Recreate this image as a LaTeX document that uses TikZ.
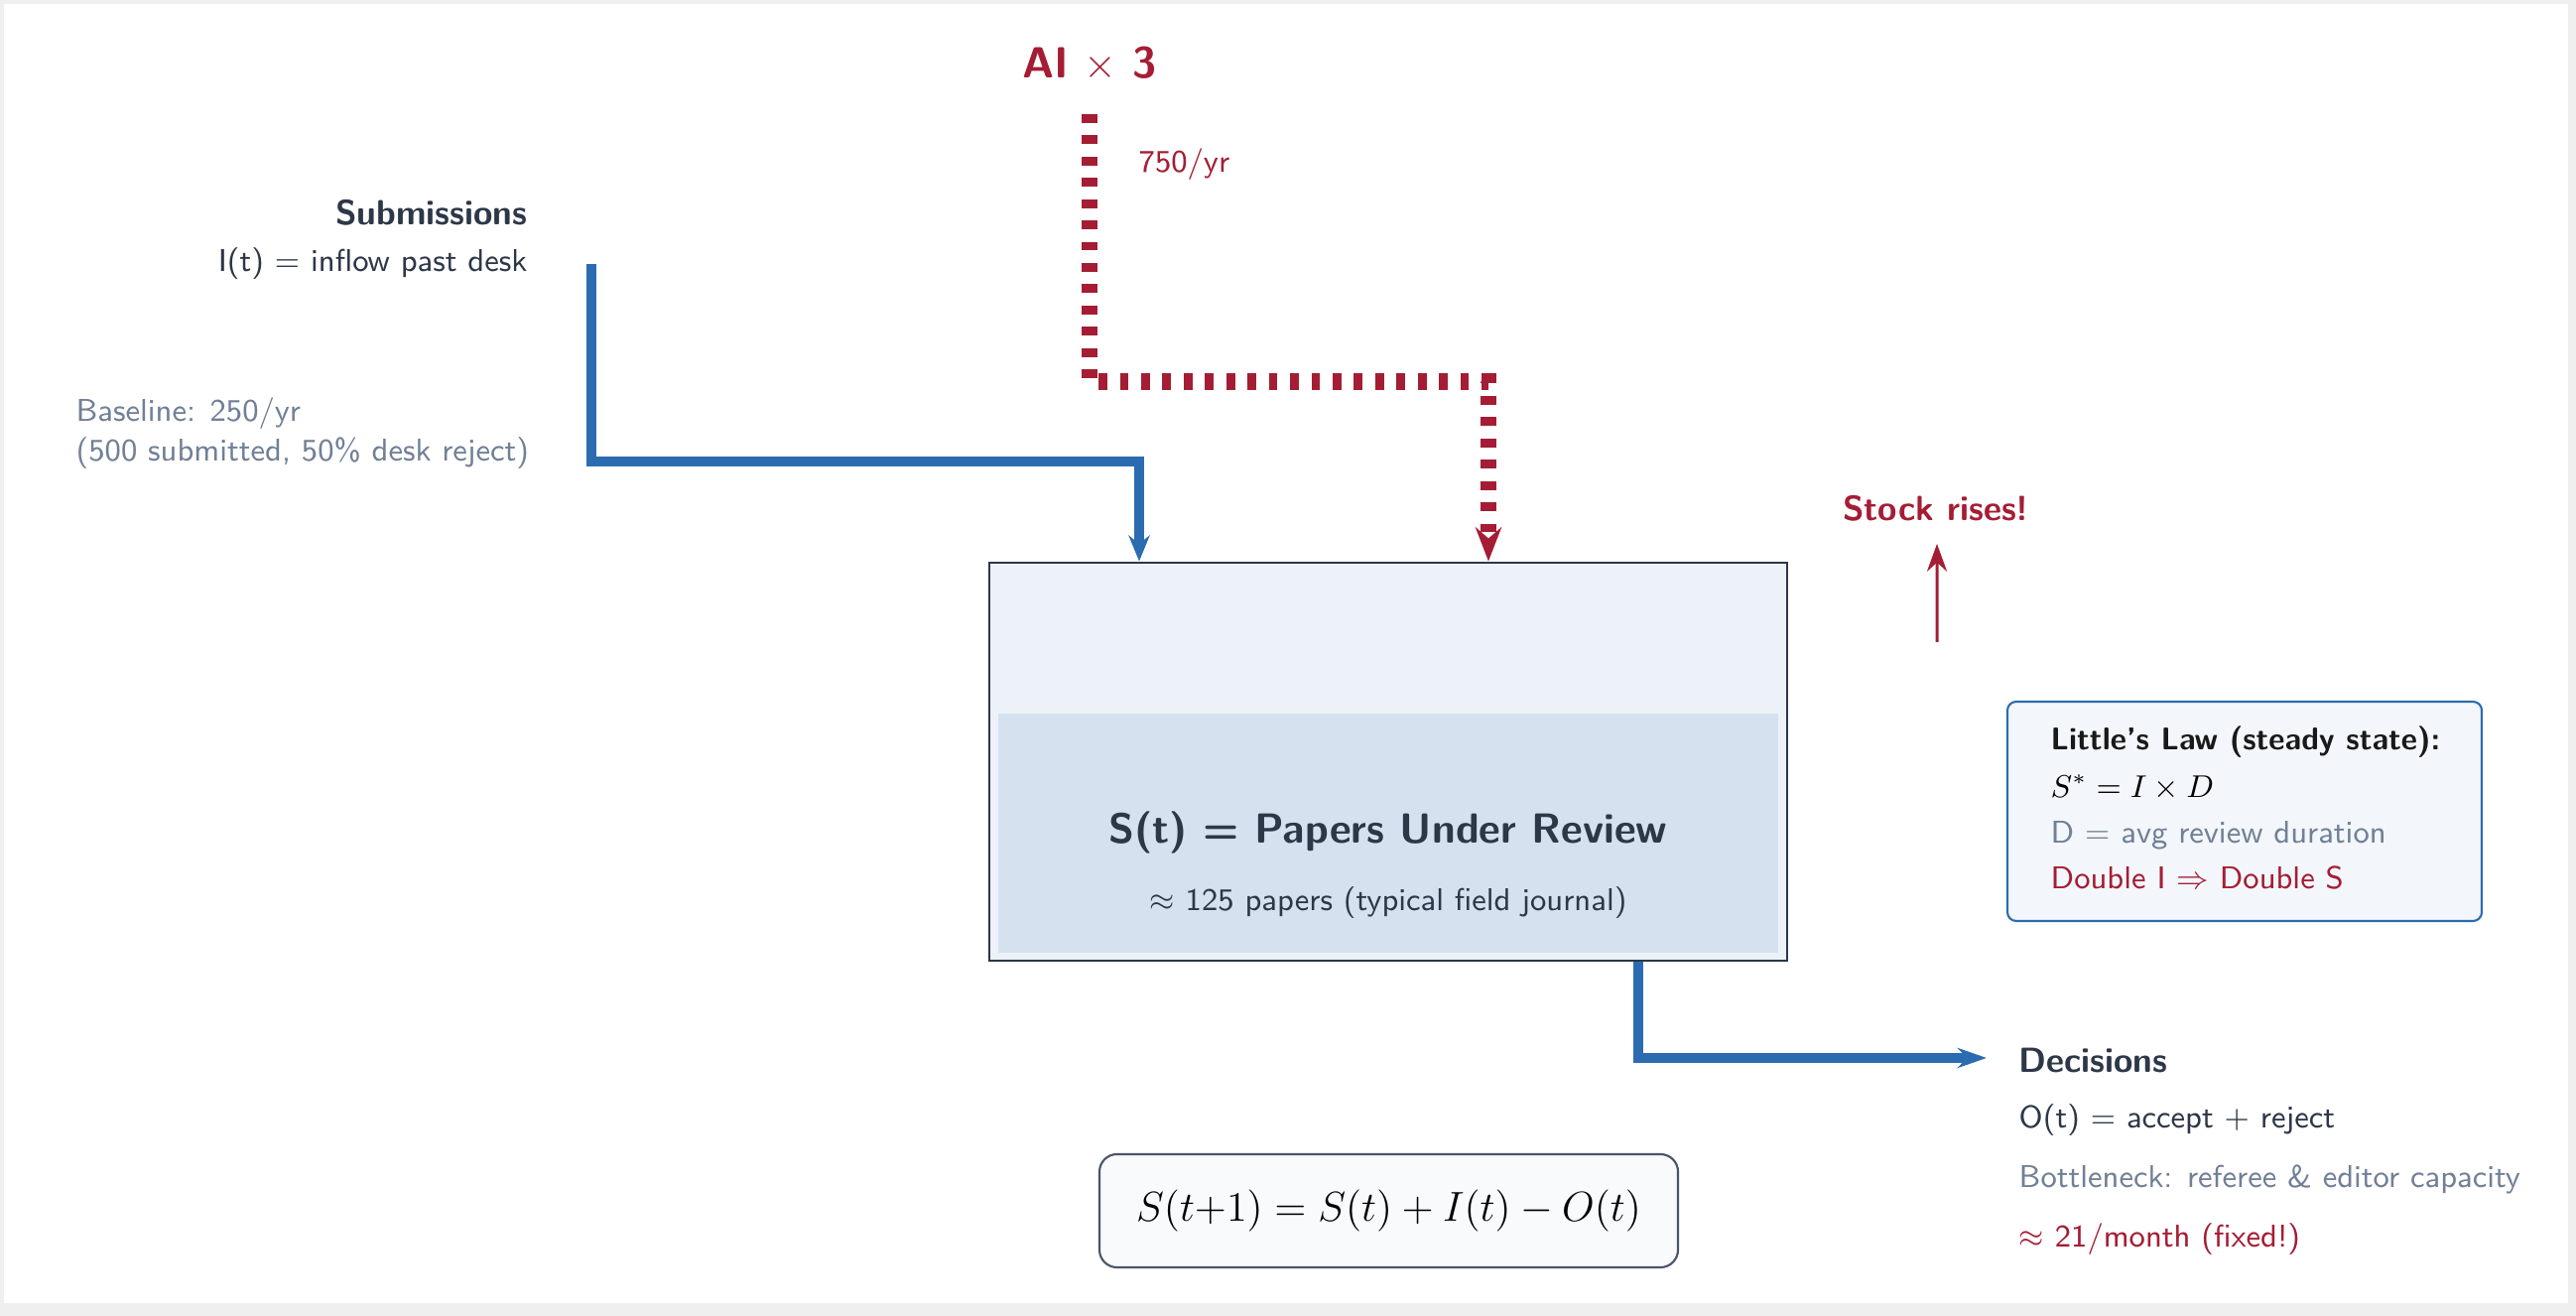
\documentclass[tikz,border=0pt]{standalone}
\usepackage{xcolor}
\definecolor{FlowBlue}{HTML}{2B6CB0}
\definecolor{AlertRed}{HTML}{A51D34}
\definecolor{SlateDark}{HTML}{2D3748}
\definecolor{SlateGrey}{HTML}{718096}
\definecolor{StockFill}{HTML}{EDF2F9}
\definecolor{WaterFill}{HTML}{D5E1EE}
\definecolor{LawFill}{HTML}{F3F7FB}
\definecolor{EqFill}{HTML}{F8FAFC}
\definecolor{EqBorder}{HTML}{4A5568}
\definecolor{PageGrey}{HTML}{EFEFEF}
\usepackage{amsmath}
\usepackage{tikz}
\usetikzlibrary{calc}
\usetikzlibrary{arrows.meta}
\renewcommand{\familydefault}{\sfdefault}

\tikzset{
	txt/.style={font=\fontsize{9.03}{11}\selectfont, inner sep=0pt, text=SlateDark},
	head/.style={font=\fontsize{10}{12}\selectfont\bfseries, inner sep=0pt, text=SlateDark},
	flow/.style={FlowBlue, line width=2.85pt, -{Stealth[length=7.4pt,width=6pt]}},
	aiflow/.style={AlertRed, line width=4.7pt, dash pattern=on 2.5pt off 3.6pt, -{Stealth[length=9.7pt,width=7.4pt]}},
}

\begin{document}
\begin{tikzpicture}
		\def\W{25.96} % page width
		\def\H{13.26} % page height
		
		\fill[PageGrey] (0,0) rectangle (\W,\H);
		\fill[white] (0.04,0.13) rectangle (25.88,13.22);
		
		% stock
		\node[draw=SlateDark, line width=0.8pt, fill=StockFill, minimum width=8.04cm, minimum height=4.01cm, inner sep=0pt] (stock) at (13.99,5.585) {};
		\fill[WaterFill] ($(stock.south west)+(0.105,0.09)$) rectangle ($(stock.south east)+(-0.10,2.50)$);
		\node[anchor=base, font=\fontsize{12.05}{14}\selectfont\bfseries, text=SlateDark, inner sep=0pt] (stockTitle) at (13.99,4.76) {S(t) = Papers Under Review};
		\node[txt, anchor=base] (stockSub) at (13.99,4.08) {$\approx$ 125 papers (typical field journal)};
		
		% inflow
		\node[head, anchor=base east] (subm) at (5.32,10.99) {Submissions};
		\node[txt, anchor=base east] (inflow) at (5.32,10.52) {I(t) $=$ inflow past desk};
		\node[txt, anchor=base west, text=SlateGrey] (base1) at (0.76,9.01) {Baseline: 250/yr};
		\node[txt, anchor=base west, text=SlateGrey] (base2) at (0.76,8.61) {(500 submitted, 50\% desk reject)};
		
		\coordinate (inStart) at ($(inflow.base east)+(0.64,0.08)$);
		\coordinate (inEnd) at ($(stock.north)+(-2.51,0)$);
		\draw[flow] (inStart) |- ($(inEnd)+(0,1.005)$) -- (inEnd);
		
		% AI inflow
		\node[anchor=base, font=\fontsize{12.5}{15}\selectfont\bfseries, text=AlertRed, inner sep=0pt] (ai) at (10.98,12.47) {AI $\times$ 3};
		\node[txt, anchor=base west, text=AlertRed] (aiRate) at (11.47,11.52) {750/yr};
		
		\coordinate (aiIn) at ($(stock.north)+(1.01,0)$);
		\draw[aiflow] ($(ai.base)+(0,-0.36)$) |- ($(aiIn)+(0,1.81)$) -- (aiIn);
		
		% stock rises
		\node[anchor=base, font=\fontsize{10}{12}\selectfont\bfseries, text=AlertRed, inner sep=0pt] (rises) at (19.51,8.015) {Stock rises!};
		\coordinate (risesFoot) at (19.52,6.79);
		\draw[AlertRed, line width=0.85pt, -{Stealth[length=7.9pt,width=5.7pt]}] (risesFoot) -- ($(rises.base)+(0.01,-0.235)$);
		
		% Little's law
		\node[draw=FlowBlue, line width=0.6pt, fill=LawFill, rounded corners=2.5pt, minimum width=4.78cm, minimum height=2.21cm, inner sep=0pt] (law) at (22.62,5.085) {};
		\node[anchor=base west, font=\fontsize{9}{11}\selectfont\bfseries, text=black!90, inner sep=0pt] (lawTitle) at (20.66,5.70) {Little's Law (steady state):};
		\node[txt, anchor=base west, text=black] (lawEq) at (20.66,5.22) {$S^{*} = I \times D$};
		\node[txt, anchor=base west, text=SlateGrey] (lawD) at (20.66,4.76) {D $=$ avg review duration};
		\node[txt, anchor=base west, text=AlertRed] (lawDouble) at (20.66,4.30) {Double I $\Rightarrow$ Double S};
		
		% outflow
		\node[head, anchor=base west] (dec) at (20.34,2.45) {Decisions};
		\node[txt, anchor=base west] (decEq) at (20.34,1.89) {O(t) $=$ accept $+$ reject};
		\node[txt, anchor=base west, text=SlateGrey] (decNeck) at (20.34,1.29) {Bottleneck: referee \& editor capacity};
		\node[txt, anchor=base west, text=AlertRed] (decRate) at (20.34,0.69) {$\approx$ 21/month (fixed!)};
		
		\coordinate (outStart) at ($(stock.south)+(2.52,0)$);
		\draw[FlowBlue, line width=2.85pt, -{Stealth[length=8.3pt,width=5.7pt]}] (outStart) |- ($(dec.base west)+(-0.32,0.15)$);
		
		% stock balance
		\node[draw=EqBorder, line width=0.6pt, fill=EqFill, rounded corners=5pt, minimum width=5.83cm, minimum height=1.14cm, inner sep=0pt, font=\fontsize{12}{14}\selectfont] (balance) at (13.995,1.06) {$S(t{+}1) = S(t) + I(t) - O(t)$};
		
	\end{tikzpicture}
\end{document}
